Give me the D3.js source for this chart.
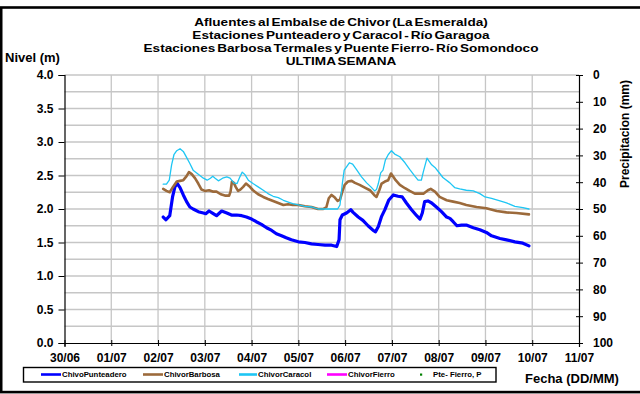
<!DOCTYPE html>
<html>
<head>
<meta charset="utf-8">
<script src="https://cdn.jsdelivr.net/npm/d3@7/dist/d3.min.js"></script>
<style>
  html, body { margin: 0; padding: 0; background: #fff; }
  svg { display: block; font-family: "Liberation Sans", Arial, sans-serif; }
</style>
</head>
<body>
<svg id="chart" width="640" height="394"></svg>
<script>
// Chart titles
const titleLines = [
  "Afluentes al Embalse de Chivor (La Esmeralda)",
  "Estaciones Punteadero y Caracol - Río Garagoa",
  "Estaciones Barbosa Termales y Puente Fierro- Río Somondoco",
  "ULTIMA SEMANA"
];

// Date tick labels (one per day, starting 30/06)
const dayLabels = ["30/06", "01/07", "02/07", "03/07", "04/07", "05/07",
                   "06/07", "07/07", "08/07", "09/07", "10/07", "11/07"];

// Level ticks (m) and precipitation ticks (mm)
const levelTicks = [0, 0.5, 1, 1.5, 2, 2.5, 3, 3.5, 4];
const precipTicks = [0, 10, 20, 30, 40, 50, 60, 70, 80, 90, 100];

// Series names
const seriesNames = ["ChivoPunteadero", "ChivorBarbosa", "ChivorCaracol", "ChivorFierro", "Pte- Fierro, P"];

// Level series: [days since 30/06 00:00, level in m]
const punteadero = [
  [2.11,1.88],[2.17,1.84],[2.25,1.90],[2.31,2.18],[2.36,2.33],[2.41,2.38],[2.47,2.32],[2.54,2.21],
  [2.61,2.11],[2.68,2.03],[2.75,2.00],[2.86,1.96],[2.97,1.94],[3.02,1.93],[3.09,1.97],[3.18,1.93],
  [3.25,1.90],[3.36,1.97],[3.47,1.94],[3.57,1.91],[3.68,1.91],[3.79,1.90],[3.89,1.88],[4.00,1.85],
  [4.10,1.81],[4.21,1.77],[4.32,1.72],[4.43,1.68],[4.53,1.63],[4.64,1.60],[4.74,1.57],[4.85,1.54],
  [5.00,1.51],[5.14,1.50],[5.28,1.48],[5.42,1.47],[5.57,1.46],[5.71,1.46],[5.82,1.44],[5.87,1.54],
  [5.89,1.84],[5.94,1.91],[6.03,1.94],[6.12,1.99],[6.17,1.95],[6.28,1.88],[6.38,1.83],[6.49,1.75],
  [6.60,1.68],[6.65,1.66],[6.71,1.74],[6.78,1.89],[6.85,1.99],[6.93,2.13],[7.03,2.21],[7.13,2.19],
  [7.22,2.18],[7.31,2.09],[7.42,1.99],[7.53,1.90],[7.60,1.85],[7.65,1.94],[7.70,2.11],[7.77,2.12],
  [7.85,2.09],[7.95,2.03],[8.06,1.96],[8.17,1.88],[8.24,1.86],[8.31,1.81],[8.39,1.75],[8.49,1.76],
  [8.59,1.76],[8.74,1.72],[8.88,1.69],[9.02,1.65],[9.13,1.60],[9.31,1.56],[9.45,1.54],[9.63,1.51],
  [9.80,1.49],[9.93,1.45]
];

const barbosa = [
  [2.11,2.30],[2.18,2.27],[2.25,2.25],[2.32,2.33],[2.40,2.41],[2.47,2.42],[2.54,2.43],[2.61,2.49],
  [2.66,2.55],[2.72,2.52],[2.79,2.46],[2.86,2.38],[2.93,2.29],[3.00,2.27],[3.09,2.28],[3.17,2.26],
  [3.25,2.26],[3.34,2.22],[3.43,2.20],[3.52,2.20],[3.55,2.26],[3.58,2.41],[3.62,2.39],[3.66,2.33],
  [3.71,2.27],[3.76,2.29],[3.82,2.33],[3.88,2.38],[3.95,2.34],[4.03,2.28],[4.14,2.22],[4.25,2.18],
  [4.35,2.15],[4.46,2.12],[4.57,2.09],[4.68,2.06],[4.78,2.07],[4.88,2.06],[5.00,2.06],[5.14,2.04],
  [5.28,2.03],[5.42,2.00],[5.53,2.00],[5.60,2.03],[5.65,2.16],[5.71,2.21],[5.78,2.17],[5.84,2.12],
  [5.89,2.14],[5.94,2.26],[5.99,2.36],[6.06,2.41],[6.14,2.42],[6.21,2.39],[6.31,2.36],[6.42,2.32],
  [6.53,2.28],[6.62,2.21],[6.67,2.18],[6.73,2.28],[6.78,2.38],[6.85,2.41],[6.92,2.43],[6.98,2.53],
  [7.03,2.48],[7.08,2.43],[7.17,2.36],[7.28,2.31],[7.38,2.27],[7.49,2.23],[7.60,2.23],[7.68,2.23],
  [7.77,2.28],[7.83,2.30],[7.92,2.26],[8.02,2.18],[8.17,2.13],[8.31,2.11],[8.45,2.09],[8.59,2.06],
  [8.81,2.03],[9.02,2.01],[9.24,1.97],[9.45,1.95],[9.66,1.94],[9.93,1.92]
];

const caracol = [
  [2.11,2.37],[2.18,2.37],[2.24,2.43],[2.29,2.66],[2.34,2.81],[2.40,2.87],[2.47,2.90],[2.54,2.86],
  [2.61,2.77],[2.68,2.68],[2.75,2.58],[2.86,2.52],[2.97,2.46],[3.05,2.43],[3.12,2.46],[3.17,2.49],
  [3.22,2.46],[3.29,2.42],[3.38,2.46],[3.47,2.48],[3.54,2.46],[3.62,2.39],[3.69,2.38],[3.75,2.48],
  [3.80,2.55],[3.86,2.51],[3.93,2.43],[4.03,2.38],[4.14,2.33],[4.25,2.28],[4.35,2.23],[4.46,2.19],
  [4.57,2.17],[4.68,2.13],[4.80,2.10],[4.88,2.08],[5.00,2.06],[5.14,2.04],[5.28,2.03],[5.42,2.00],
  [5.57,2.00],[5.71,2.00],[5.84,2.00],[5.89,2.06],[5.94,2.38],[5.98,2.58],[6.03,2.63],[6.09,2.69],
  [6.16,2.67],[6.24,2.59],[6.35,2.48],[6.46,2.39],[6.55,2.33],[6.63,2.27],[6.67,2.29],[6.71,2.38],
  [6.76,2.54],[6.81,2.58],[6.86,2.73],[6.92,2.81],[6.99,2.87],[7.06,2.82],[7.17,2.78],[7.28,2.69],
  [7.38,2.59],[7.49,2.49],[7.56,2.43],[7.63,2.43],[7.67,2.55],[7.70,2.63],[7.75,2.76],[7.79,2.72],
  [7.85,2.66],[7.92,2.62],[7.99,2.56],[8.09,2.47],[8.24,2.39],[8.34,2.32],[8.45,2.30],[8.59,2.28],
  [8.74,2.27],[8.88,2.23],[8.99,2.18],[9.13,2.16],[9.31,2.12],[9.45,2.09],[9.63,2.04],[9.80,2.02],
  [9.93,2.00]
];

const colors = {
  punteadero: "#0000ff",
  barbosa: "#9c6a3b",
  caracol: "#1ec6f4",
  fierro: "#ff00ff",
  precip: "#008000"
};

const svg = d3.select("#chart");
const plot = { left: 64.5, right: 579, top: 75, bottom: 343 };

const x = d3.scaleLinear().domain([0, dayLabels.length - 1]).range([plot.left, plot.right]);
const yLevel = d3.scaleLinear().domain([0, 4]).range([plot.bottom, plot.top]);
const yPrecip = d3.scaleLinear().domain([0, 100]).range([plot.top, plot.bottom]);

// Outer frame
svg.append("rect")
  .attr("x", 1.2).attr("y", 7.5)
  .attr("width", 660).attr("height", 384.6)
  .attr("fill", "none").attr("stroke", "#000").attr("stroke-width", 2.6);

// Titles: wide, short bold lettering stacked tightly
svg.append("g").selectAll("text").data(titleLines).join("text")
  .attr("transform", (d, i) => `translate(341,${26 + i * 13}) scale(1.236,1)`)
  .attr("x", 0).attr("y", 0)
  .attr("text-anchor", "middle")
  .attr("font-size", 11).attr("font-weight", "bold")
  .attr("word-spacing", -1.45)
  .text(d => d);

// Grid
const grid = svg.append("g").attr("stroke", "#c6c6c6").attr("stroke-width", 1.3);
grid.selectAll("line.h").data(d3.range(0.25, 4.01, 0.25)).join("line")
  .attr("x1", plot.left).attr("x2", plot.right)
  .attr("y1", d => yLevel(d)).attr("y2", d => yLevel(d));
grid.selectAll("line.v").data(d3.range(1, dayLabels.length - 1)).join("line")
  .attr("x1", d => x(d)).attr("x2", d => x(d))
  .attr("y1", plot.top).attr("y2", plot.bottom);

// Axes
const tickFont = g => g.selectAll("text")
  .attr("font-size", 12).attr("font-weight", "bold")
  .attr("font-family", "'Liberation Sans', Arial, sans-serif").attr("fill", "#000");

const xAxis = svg.append("g")
  .attr("transform", `translate(0,${plot.bottom})`)
  .call(d3.axisBottom(x).tickValues(d3.range(dayLabels.length))
    .tickFormat(i => dayLabels[i]).tickSize(4).tickPadding(6))
  .call(tickFont);
xAxis.select(".domain").attr("stroke-width", 1.2);
xAxis.selectAll(".tick line").attr("y1", -3).attr("y2", 3);

const yAxisL = svg.append("g")
  .attr("transform", `translate(${plot.left},0)`)
  .call(d3.axisLeft(yLevel).tickValues(levelTicks).tickFormat(d3.format(".1f"))
    .tickSize(6).tickPadding(5))
  .call(tickFont);
yAxisL.select(".domain").attr("stroke-width", 1.2);

const yAxisR = svg.append("g")
  .attr("transform", `translate(${plot.right},0)`)
  .call(d3.axisRight(yPrecip).tickValues(precipTicks).tickSize(4).tickPadding(10))
  .call(tickFont);
yAxisR.select(".domain").attr("stroke-width", 1.2);
yAxisR.selectAll(".tick line").attr("x1", -3).attr("x2", 4);

// Axis titles
svg.append("text").attr("x", 5).attr("y", 62)
  .attr("font-size", 13).attr("font-weight", "bold").text("Nivel (m)");
svg.append("text")
  .attr("transform", "translate(629,134) rotate(-90)")
  .attr("text-anchor", "middle")
  .attr("font-size", 12).attr("font-weight", "bold").text("Precipitacion (mm)");
svg.append("text").attr("x", 525).attr("y", 383)
  .attr("font-size", 13).attr("font-weight", "bold").text("Fecha (DD/MM)");

// Level lines
const line = d3.line().x(d => x(d[0])).y(d => yLevel(d[1]));
const series = [
  { data: punteadero, color: colors.punteadero, width: 3.2 },
  { data: barbosa, color: colors.barbosa, width: 2.6 },
  { data: caracol, color: colors.caracol, width: 1.3 }
];
svg.append("g").selectAll("path").data(series).join("path")
  .attr("d", d => line(d.data))
  .attr("fill", "none")
  .attr("stroke", d => d.color)
  .attr("stroke-width", d => d.width)
  .attr("stroke-linejoin", "round")
  .attr("stroke-linecap", "round");

// Legend
const legend = svg.append("g");
legend.append("rect").attr("x", 23.5).attr("y", 367.5).attr("width", 472.5).attr("height", 14.5)
  .attr("fill", "#fff").attr("stroke", "#000").attr("stroke-width", 1.4);
const legendItems = [
  { name: seriesNames[0], color: colors.punteadero, x0: 41, x1: 61 },
  { name: seriesNames[1], color: colors.barbosa, x0: 143, x1: 163 },
  { name: seriesNames[2], color: colors.caracol, x0: 239, x1: 257 },
  { name: seriesNames[3], color: colors.fierro, x0: 327, x1: 347 }
];
legendItems.forEach(it => {
  legend.append("line").attr("x1", it.x0).attr("x2", it.x1)
    .attr("y1", 374.5).attr("y2", 374.5)
    .attr("stroke", it.color).attr("stroke-width", 2.6);
  legend.append("text").attr("x", it.x1 + 1).attr("y", 377.3)
    .attr("font-size", 7.8).attr("font-weight", "bold").text(it.name);
});
legend.append("rect").attr("x", 420).attr("y", 373.5).attr("width", 2.2).attr("height", 2.2)
  .attr("fill", colors.precip);
legend.append("text").attr("x", 433).attr("y", 377.3)
  .attr("font-size", 7.8).attr("font-weight", "bold").text(seriesNames[4]);
</script>
</body>
</html>
